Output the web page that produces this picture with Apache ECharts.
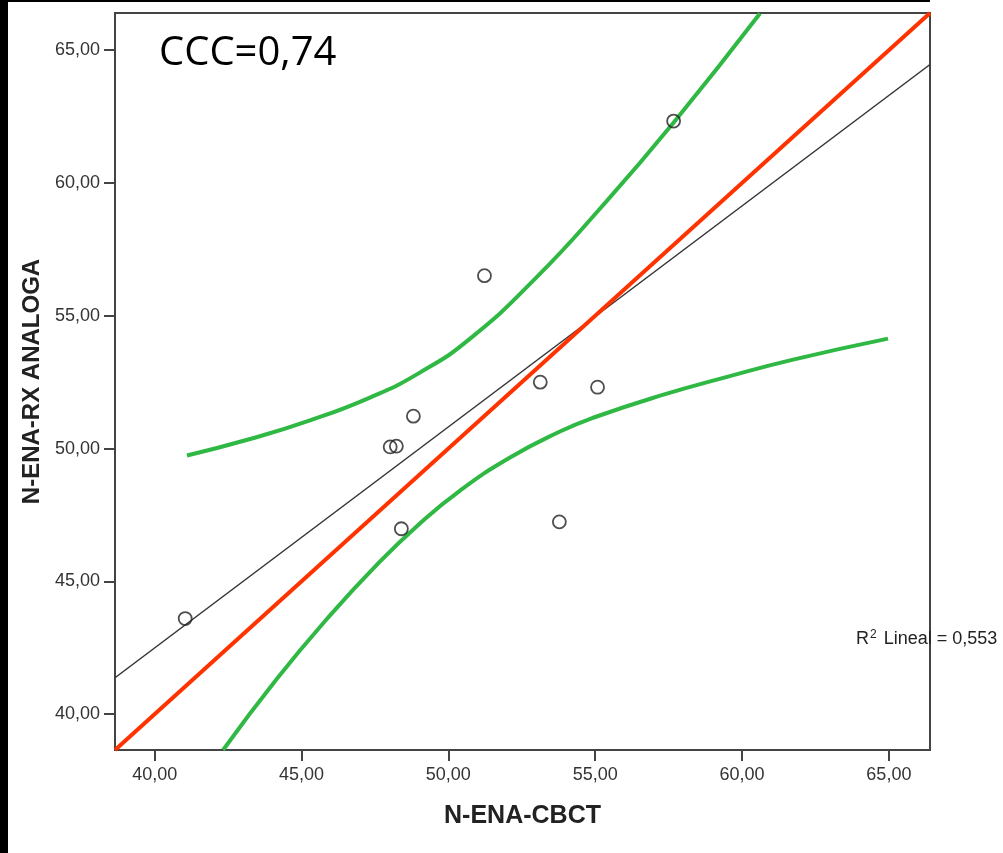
<!DOCTYPE html>
<html>
<head>
<meta charset="utf-8">
<script src="https://cdn.jsdelivr.net/npm/echarts@6/dist/echarts.min.js"></script>
<style>
  html, body { margin: 0; padding: 0; background: #fff; }
  #chart { width: 1003px; height: 853px; }
</style>
</head>
<body>
<div id="chart"></div>
<script>
// ---- data ----
const axisRange = [38.65, 66.4];
const tickValues = [40, 45, 50, 55, 60, 65];

const cbct = [41.04, 48.02, 48.23, 48.81, 48.40, 51.23, 53.13, 55.08, 53.78, 57.67];
const rxAnaloga = [43.60, 50.06, 50.09, 51.22, 46.98, 56.51, 52.50, 52.31, 47.24, 62.33];

const identityX = [38.65, 66.4];
const identityY = [38.65, 66.4];

const fitX = [38.65, 66.4];
const fitY = [41.37, 64.46];

const upperBandX = [41.10, 43.25, 45.29, 47.33, 49.03, 50.74, 52.95, 55.16, 57.68, 60.61];
const upperBandY = [49.74, 50.36, 51.06, 51.92, 52.86, 54.14, 56.39, 59.03, 62.29, 66.38];

const lowerBandX = [42.33, 44.17, 45.87, 47.57, 49.03, 50.40, 52.10, 53.80, 54.93, 57.21, 59.49, 61.74, 64.97];
const lowerBandY = [38.65, 41.34, 43.59, 45.63, 47.18, 48.42, 49.66, 50.64, 51.16, 51.99, 52.70, 53.35, 54.14];

const xTitle = 'N-ENA-CBCT';
const yTitle = 'N-ENA-RX ANALOGA';
const cccText = 'CCC=0,74';
const r2Value = '0,553';

// ---- build ----
const zip = (a, b) => a.map((v, i) => [v, b[i]]);
const fmt = v => Number(v).toFixed(2).replace('.', ',');

const axisCommon = {
  type: 'value',
  min: axisRange[0],
  max: axisRange[1],
  nameLocation: 'middle',
  axisLine: { show: true, onZero: false, lineStyle: { color: '#444', width: 2 } },
  axisTick: { show: true, length: 11, inside: false, customValues: tickValues, lineStyle: { color: '#444', width: 2 } },
  axisLabel: { customValues: tickValues, formatter: fmt, fontFamily: 'Liberation Sans', fontSize: 18, color: '#333' },
  splitLine: { show: false }
};

const chart = echarts.init(document.getElementById('chart'), null, { renderer: 'canvas' });
chart.setOption({
  animation: false,
  backgroundColor: '#fff',
  grid: { left: 115, right: 73, top: 13, bottom: 103, show: true, borderColor: '#444', borderWidth: 2, backgroundColor: '#fff' },
  xAxis: Object.assign({}, axisCommon, {
    name: xTitle, nameGap: 54,
    nameTextStyle: { fontFamily: 'Liberation Sans', fontWeight: 'bold', fontSize: 25, color: '#222' },
    axisLabel: Object.assign({}, axisCommon.axisLabel, { margin: 16 })
  }),
  yAxis: Object.assign({}, axisCommon, {
    name: yTitle, nameGap: 70,
    nameTextStyle: { fontFamily: 'Liberation Sans', fontWeight: 'bold', fontSize: 24, color: '#222' },
    axisLabel: Object.assign({}, axisCommon.axisLabel, { margin: 15 })
  }),
  graphic: [
    { type: 'rect', left: 0, top: 0, shape: { width: 8, height: 853 }, style: { fill: '#000' }, z: 100 },
    { type: 'rect', left: 0, top: 0, shape: { width: 930, height: 2 }, style: { fill: '#000' }, z: 100 },
    { type: 'text', left: 159, top: 34, z: 100,
      style: { text: cccText, fontFamily: 'Open Sans', fontSize: 40, fill: '#000' } },
    { type: 'text', left: 856, top: 629, z: 100,
      style: {
        text: 'R{sup|2} Lineal = ' + r2Value,
        fontFamily: 'Liberation Sans', fontSize: 18, fill: '#222',
        rich: { sup: { fontFamily: 'Liberation Sans', fontSize: 12, verticalAlign: 'top', padding: [0, 2, 8, 1], fill: '#222' } }
      } }
  ],
  series: [
    { type: 'line', data: zip(fitX, fitY), showSymbol: false, lineStyle: { color: '#333', width: 1.5 }, z: 2, clip: true },
    { type: 'line', data: zip(identityX, identityY), showSymbol: false, lineStyle: { color: '#ff3300', width: 4 }, z: 3, clip: true },
    { type: 'line', data: zip(upperBandX, upperBandY), showSymbol: false, smooth: 0.5, lineStyle: { color: '#2fb843', width: 4 }, z: 4, clip: true },
    { type: 'line', data: zip(lowerBandX, lowerBandY), showSymbol: false, smooth: 0.5, lineStyle: { color: '#2fb843', width: 4 }, z: 4, clip: true },
    { type: 'scatter', data: zip(cbct, rxAnaloga), symbol: 'circle', symbolSize: 13,
      itemStyle: { color: 'rgba(255,255,255,0)', borderColor: '#222', borderWidth: 1.8 }, z: 5 }
  ]
});
</script>
</body>
</html>
